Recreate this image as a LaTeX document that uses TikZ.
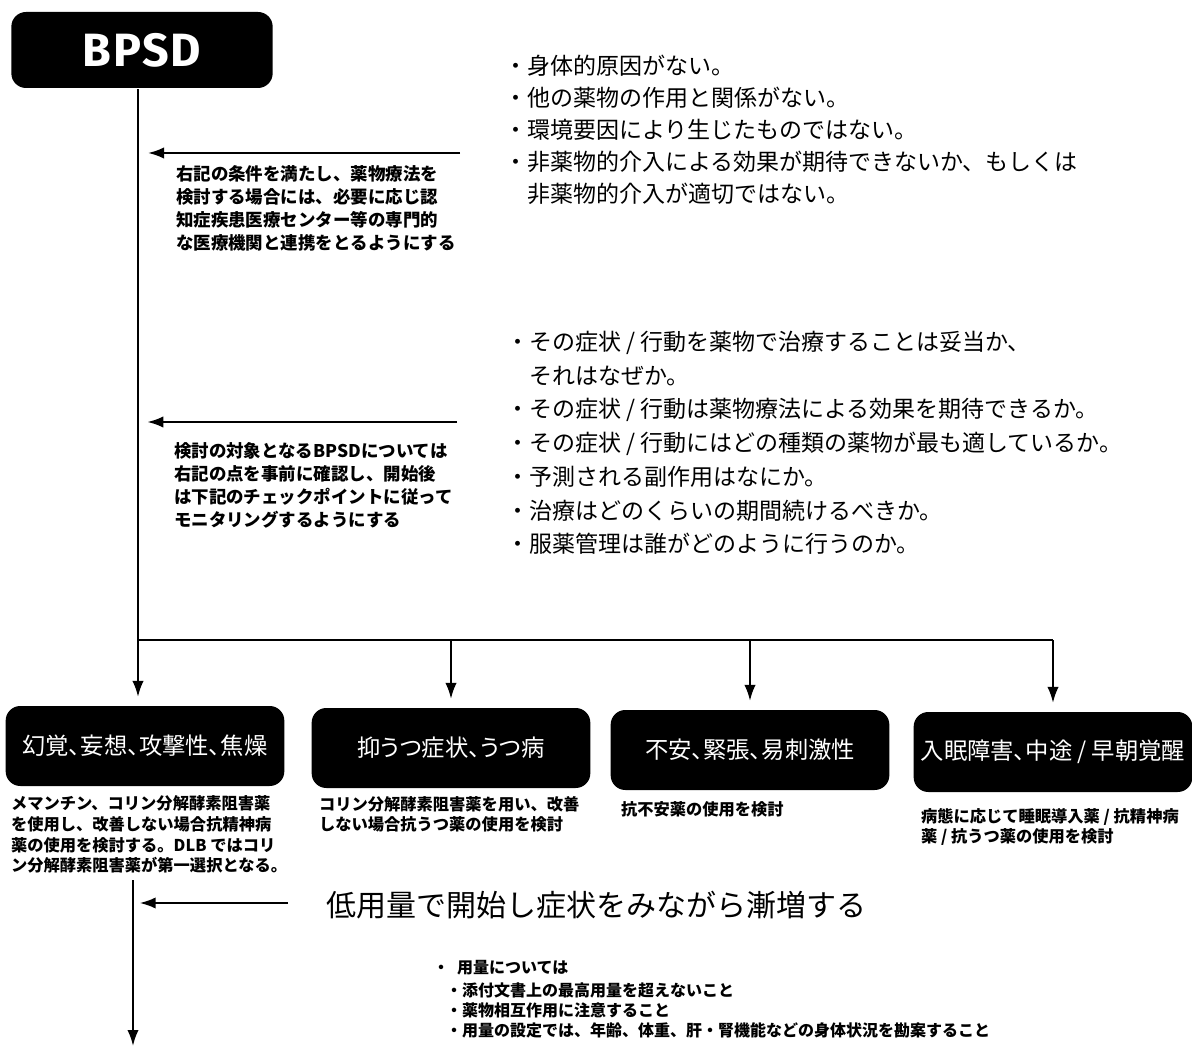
\documentclass[tikz,border=0pt]{standalone}
\usepackage{fontspec}
\setmainfont{Noto Sans CJK JP}
\newfontfamily\jpfont{Noto Sans CJK JP}
\newfontfamily\jpnarrow{Noto Sans CJK JP}[RawFeature=+palt]
\newfontfamily\titlefont{Fira Sans}[LetterSpace=4]
\usetikzlibrary{arrows.meta}

\begin{document}
\begin{tikzpicture}[x=0.75pt,y=-0.75pt,line width=1.6pt]

% Styles
\tikzset{
    arrow/.style={-{Latex[length=12pt,width=8.5pt]}},
    darkbox/.style={fill=black,text=white,rounded corners=11pt,
        minimum width=209pt,minimum height=60pt,inner sep=0pt,
        font=\jpnarrow\fontsize{17.5}{20}\selectfont},
    listtext/.style={anchor=north west,inner sep=0pt,align=left,
        font=\jpfont\fontsize{17.25}{#1}\selectfont},
    note/.style={anchor=north west,inner sep=0pt,align=left,
        font=\jpfont\bfseries\fontsize{13.1}{17.25}\selectfont},
    desc/.style={anchor=north west,inner sep=0pt,align=left,
        font=\jpfont\bfseries\fontsize{12.2}{15.4}\selectfont},
    smallnote/.style={anchor=north west,inner sep=0pt,align=left,
        font=\jpfont\bfseries\fontsize{12}{15}\selectfont},
}

\useasboundingbox (0,0) rectangle (1192,1048);

% Title box
\node
[
    fill=black,
    text=white,
    rounded corners=11pt,
    minimum width=196pt,
    minimum height=57pt,
    font=\titlefont\bfseries\fontsize{35}{40}\selectfont
] (bpsd) at (142,50) {BPSD};

% Conditions and check points
\node[listtext=24pt] (cond) at (503,53.5)
    {・身体的原因がない。\\
     ・他の薬物の作用と関係がない。\\
     ・環境要因により生じたものではない。\\
     ・非薬物的介入による効果が期待できないか、もしくは\\
     \hspace*{1em}非薬物的介入が適切ではない。};
\node[note] (condnote) at (175,164)
    {右記の条件を満たし、薬物療法を\\
     検討する場合には、必要に応じ認\\
     知症疾患医療センター等の専門的\\
     な医療機関と連携をとるようにする};

\node[listtext=25.3pt] (check) at (505,330)
    {・その症状 / 行動を薬物で治療することは妥当か、\\
     \hspace*{1em}それはなぜか。\\
     ・その症状 / 行動は薬物療法による効果を期待できるか。\\
     ・その症状 / 行動にはどの種類の薬物が最も適しているか。\\
     ・予測される副作用はなにか。\\
     ・治療はどのくらいの期間続けるべきか。\\
     ・服薬管理は誰がどのように行うのか。};
\node[note] (checknote) at (173,441)
    {検討の対象となるBPSDについては\\
     右記の点を事前に確認し、開始後\\
     は下記のチェックポイントに従って\\
     モニタリングするようにする};

% Symptom boxes
\node[darkbox] (hallu) at (145,746) {幻覚、妄想、攻撃性、焦燥};
\node[darkbox] (depr) at (451,748) {抑うつ症状、うつ病};
\node[darkbox] (anx) at (750,750) {不安、緊張、易刺激性};
\node[darkbox] (sleep) at (1053,752) {入眠障害、中途 / 早朝覚醒};

\node[desc] (halludesc) at (10,795)
    {メマンチン、コリン分解酵素阻害薬\\
     を使用し、改善しない場合抗精神病\\
     薬の使用を検討する。DLB ではコリ\\
     ン分解酵素阻害薬が第一選択となる。};
\node[desc] (deprdesc) at (318,795)
    {コリン分解酵素阻害薬を用い、改善\\
     しない場合抗うつ薬の使用を検討};
\node[desc] (anxdesc) at (620,800) {抗不安薬の使用を検討};
\node[desc] (sleepdesc) at (920,807)
    {病態に応じて睡眠導入薬 / 抗精神病\\
     薬 / 抗うつ薬の使用を検討};

% Main flow
\coordinate (br) at (138,640);
\draw[arrow,shorten >=6pt] (bpsd.south -| br) -- (hallu.north -| br);
\draw (br) -- (br -| sleep.north);
\foreach \b in {depr,anx,sleep}
    \draw[arrow,shorten >=6pt] (br -| \b.north) -- (\b.north);

\coordinate (c1) at (460,153);
\coordinate (c2) at (457,422);
\draw[arrow,shorten >=7.5pt] (c1) -- (c1 -| br);
\draw[arrow,shorten >=7pt] (c2) -- (c2 -| br);

% Dose
\node[anchor=west,inner sep=0pt,font=\jpfont\fontsize{22.5}{26}\selectfont]
    (dose) at (325,905) {低用量で開始し症状をみながら漸増する};
\node[smallnote] (dosehead) at (432,959) {・\hspace{0.5em}用量については};
\node[smallnote] (dosenote) at (445,982)
    {・添付文書上の最高用量を超えないこと\\
     ・薬物相互作用に注意すること\\
     ・用量の設定では、年齢、体重、肝・腎機能などの身体状況を勘案すること};

\coordinate (lt) at (133,880);
\coordinate (lb) at (133,1046);
\coordinate (d0) at (288,903);
\draw[arrow] (lt) -- (lb);
\draw[arrow,shorten >=5pt] (d0) -- (d0 -| lt);

\end{tikzpicture}
\end{document}
